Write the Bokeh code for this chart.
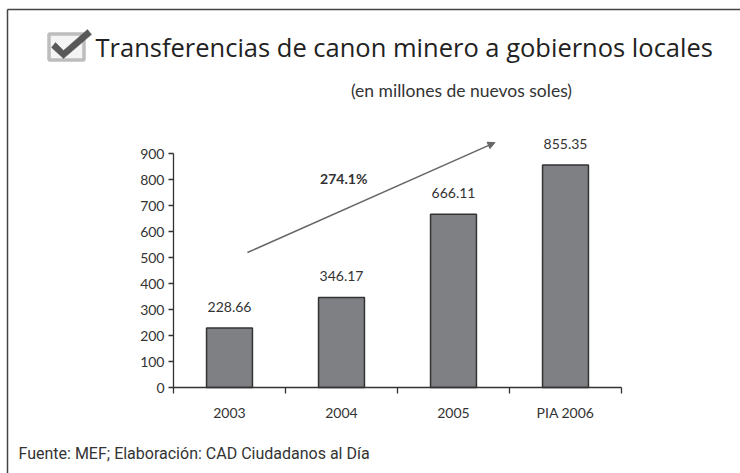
import numpy as np
from bokeh.plotting import figure
from bokeh.models import (Range1d, FixedTicker, Label, Arrow, NormalHead, ColumnDataSource)
from bokeh.core.properties import value
from bokeh.embed import file_html
from bokeh.resources import INLINE

# ---- data ----
categories = ["2003", "2004", "2005", "PIA 2006"]
values = [228.66, 346.17, 666.11, 855.35]
value_labels = ["228.66", "346.17", "666.11", "855.35"]
y_ticks = [0, 100, 200, 300, 400, 500, 600, 700, 800, 900]
growth_label = "274.1%"
title_text = "Transferencias de canon minero a gobiernos locales"
subtitle_text = "(en millones de nuevos soles)"
source_text = "Fuente: MEF; Elaboración: CAD Ciudadanos al Día"

FONT = "Lato"
TXT = "#333333"
BORDER = "#444444"

# ---- page / layout geometry (pixels) ----
W, H = 740, 473
AXIS_X_PX = 173      # where the value axis sits
AXIS_Y_PX = 387      # where the category axis sits
PX_PER_CAT = 112     # width of one category slot
PX_PER_UNIT = 0.26   # pixels per million soles

x_range = Range1d(-AXIS_X_PX / PX_PER_CAT, (W - AXIS_X_PX) / PX_PER_CAT)
y_range = Range1d((AXIS_Y_PX - H) / PX_PER_UNIT, AXIS_Y_PX / PX_PER_UNIT)

p = figure(width=W, height=H, output_backend="svg", toolbar_location=None,
           x_range=x_range, y_range=y_range, min_border=0)
p.extra_x_ranges = {"px": Range1d(0, W)}
p.extra_y_ranges = {"py": Range1d(H, 0)}
p.grid.visible = False
p.outline_line_color = None
p.background_fill_color = "white"
p.border_fill_color = "white"

# ---- value axis ----
ya = p.yaxis[0]
ya.fixed_location = 0
ya.ticker = FixedTicker(ticks=y_ticks)
ya.bounds = (y_ticks[0], y_ticks[-1])
ya.axis_line_color = TXT
ya.axis_line_width = 1.3
ya.major_tick_line_color = TXT
ya.major_tick_line_width = 1.3
ya.major_tick_out = 5
ya.major_tick_in = 0
ya.minor_tick_line_color = None
ya.major_label_standoff = 4
ya.major_label_text_font = FONT
ya.major_label_text_font_size = "14px"
ya.major_label_text_color = TXT

# ---- category axis: labels at slot centres, ticks at slot boundaries ----
x_pos = np.arange(len(categories)) + 0.5
xa = p.xaxis[0]
xa.fixed_location = 0
xa.ticker = FixedTicker(ticks=list(x_pos), minor_ticks=list(range(len(categories) + 1)))
xa.bounds = (0, len(categories))
xa.major_label_overrides = {float(x): c for x, c in zip(x_pos, categories)}
xa.axis_line_color = TXT
xa.axis_line_width = 1.3
xa.major_tick_line_color = None
xa.major_tick_out = 0
xa.major_tick_in = 0
xa.minor_tick_line_color = TXT
xa.minor_tick_line_width = 1.3
xa.minor_tick_out = 6
xa.minor_tick_in = 0
xa.major_label_standoff = 10
xa.major_label_text_font = FONT
xa.major_label_text_font_size = "14px"
xa.major_label_text_color = TXT

# ---- bars and value labels ----
src = ColumnDataSource(dict(x=x_pos, top=values, label=value_labels))
p.vbar(x="x", top="top", width=0.41, bottom=0, source=src,
       fill_color="#7f8084", line_color="#333333", line_width=1.5)
p.text(x="x", y="top", text="label", source=src, text_align="center",
       text_baseline="alphabetic", y_offset=-21, text_font=value(FONT),
       text_font_size="14px", text_color=TXT)

# ---- growth arrow ----
p.add_layout(Arrow(x_start=0.66, y_start=519, x_end=2.87, y_end=942,
                   line_color="#666666", line_width=1.5,
                   end=NormalHead(size=7, fill_color="#666666", line_color="#666666")))
p.add_layout(Label(x=1.52, y=804, text=growth_label, text_align="center",
                   text_baseline="alphabetic", text_font=FONT, text_font_style="bold",
                   text_font_size="14px", text_color=TXT))

# ---- panel border (page pixel coordinates) ----
p.segment(x0=[7, 7], y0=[9, 9], x1=[W, 7], y1=[9, H], line_color=BORDER, line_width=1.5,
          x_range_name="px", y_range_name="py")

# ---- checkbox icon ----
p.quad(left=[48.5], right=[83.5], top=[33.5], bottom=[59.5],
       fill_color="#f4f4f4", line_color="#bdbdbd", line_width=3.5,
       x_range_name="px", y_range_name="py")
p.patch(x=[51, 55, 63, 87, 91, 63], y=[47, 42, 50, 29, 34, 58],
        fill_color="#585858", line_color="#585858", line_width=0.5,
        x_range_name="px", y_range_name="py")

# ---- titles and source ----
p.add_layout(Label(x=95, y=46, text=title_text, text_align="left",
                   text_baseline="middle", text_font="Open Sans",
                   text_font_size="25.5px", text_color="#222222",
                   x_range_name="px", y_range_name="py"))
p.add_layout(Label(x=461, y=90, text=subtitle_text, text_align="center",
                   text_baseline="middle", text_font=FONT,
                   text_font_size="17.5px", text_color=TXT,
                   x_range_name="px", y_range_name="py"))
p.add_layout(Label(x=18, y=453, text=source_text, text_align="left",
                   text_baseline="middle", text_font="Roboto",
                   text_font_size="16px", text_color=TXT,
                   x_range_name="px", y_range_name="py"))

open("out.html", "w").write(file_html(p, INLINE))
